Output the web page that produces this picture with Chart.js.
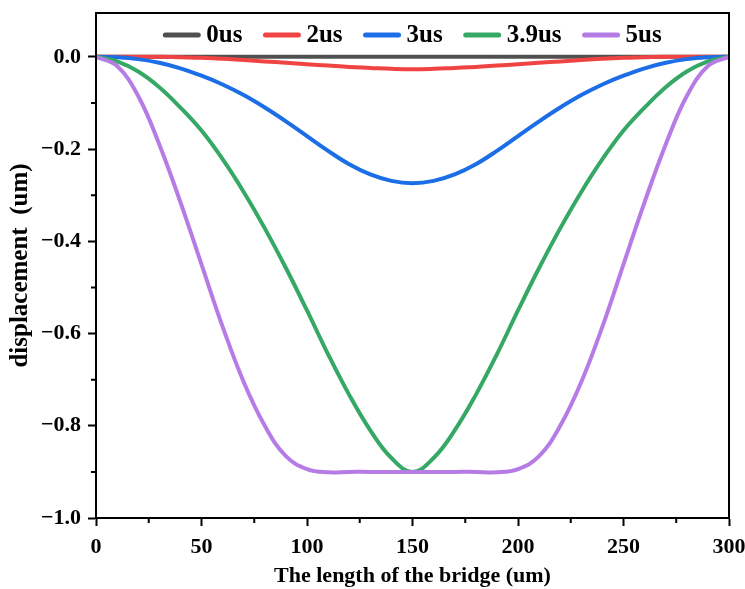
<!DOCTYPE html>
<html>
<head>
<meta charset="utf-8">
<script src="https://cdn.jsdelivr.net/npm/chart.js@4.4.1/dist/chart.umd.min.js"></script>
<style>
  html, body { margin: 0; padding: 0; background: #fff; }
  #wrap { width: 745px; height: 589px; }
</style>
</head>
<body>
<div id="wrap"><canvas id="chart"></canvas></div>
<script>
// bridge position (um)
const xs = [0, 10, 20, 30, 40, 50, 60, 70, 80, 90, 100, 110, 120, 130, 140, 150,
  160, 170, 180, 190, 200, 210, 220, 230, 240, 250, 260, 270, 280, 290, 300];

const labels = ['0us', '2us', '3us', '3.9us', '5us'];
const colors = ['#505050', '#f04444', '#1c6ee6', '#36a865', '#b67ce6'];

const d0 = [0, 0, 0, 0, 0, 0, 0, 0, 0, 0, 0, 0, 0, 0, 0, 0,
  0, 0, 0, 0, 0, 0, 0, 0, 0, 0, 0, 0, 0, 0, 0];
const d2 = [0, 0, 0, 0, -0.001, -0.002, -0.004, -0.007, -0.010, -0.013, -0.016, -0.019, -0.022, -0.024, -0.026, -0.027,
  -0.026, -0.024, -0.022, -0.019, -0.016, -0.013, -0.010, -0.007, -0.004, -0.002, -0.001, 0, 0, 0, 0];
const d3 = [0, -0.001, -0.005, -0.013, -0.025, -0.041, -0.06, -0.083, -0.11, -0.14, -0.172, -0.204, -0.233, -0.255, -0.269, -0.274,
  -0.269, -0.255, -0.233, -0.204, -0.172, -0.14, -0.11, -0.083, -0.06, -0.041, -0.025, -0.013, -0.005, -0.001, 0];
const d39 = [0, -0.01, -0.032, -0.066, -0.11, -0.16, -0.222, -0.293, -0.372, -0.458, -0.55, -0.645, -0.733, -0.81, -0.87, -0.9,
  -0.87, -0.81, -0.733, -0.645, -0.55, -0.458, -0.372, -0.293, -0.222, -0.16, -0.11, -0.066, -0.032, -0.01, 0];
const d5 = [0, -0.02, -0.085, -0.19, -0.315, -0.45, -0.585, -0.705, -0.8, -0.866, -0.894, -0.901, -0.9, -0.9, -0.9, -0.9,
  -0.9, -0.9, -0.9, -0.901, -0.894, -0.866, -0.8, -0.705, -0.585, -0.45, -0.315, -0.19, -0.085, -0.02, 0];

const xTicks = [0, 50, 100, 150, 200, 250, 300];
const xMinor = [25, 75, 125, 175, 225, 275];
const yTicks = [-1.0, -0.8, -0.6, -0.4, -0.2, 0.0];
const yMinor = [-0.9, -0.7, -0.5, -0.3, -0.1];

const series = [d0, d2, d3, d39, d5];
const fontFam = "'Liberation Serif', 'Times New Roman', serif";

// box around plot, minor ticks and the in-plot legend
const framePlugin = {
  id: 'frame',
  afterDraw(chart) {
    const { ctx, chartArea: a, scales } = chart;
    ctx.save();
    ctx.strokeStyle = '#000';
    ctx.lineWidth = 2;
    ctx.strokeRect(a.left, a.top, a.right - a.left, a.bottom - a.top);
    ctx.beginPath();
    xMinor.forEach(v => {
      const px = scales.x.getPixelForValue(v);
      ctx.moveTo(px, a.bottom);
      ctx.lineTo(px, a.bottom + 5);
    });
    yMinor.forEach(v => {
      const py = scales.y.getPixelForValue(v);
      ctx.moveTo(a.left, py);
      ctx.lineTo(a.left - 5, py);
    });
    ctx.stroke();

    // legend
    const lineW = 37, gap = 6, spacing = 21;
    ctx.font = 'bold 25px ' + fontFam;
    const sets = chart.data.datasets;
    const widths = sets.map(ds => lineW + gap + ctx.measureText(ds.label).width);
    const total = widths.reduce((s, w) => s + w, 0) + spacing * (sets.length - 1);
    let x = (a.left + a.right) / 2 - total / 2;
    const y = a.top + 22;
    ctx.textBaseline = 'middle';
    ctx.lineCap = 'round';
    sets.forEach((ds, i) => {
      ctx.strokeStyle = ds.borderColor;
      ctx.lineWidth = 5;
      ctx.beginPath();
      ctx.moveTo(x + 2, y);
      ctx.lineTo(x + lineW - 2, y);
      ctx.stroke();
      ctx.fillStyle = '#000';
      ctx.fillText(ds.label, x + lineW + gap, y + 1);
      x += widths[i] + spacing;
    });
    ctx.restore();
  }
};

new Chart(document.getElementById('chart'), {
  type: 'line',
  data: {
    datasets: series.map((arr, i) => ({
      label: labels[i],
      data: xs.map((x, j) => ({ x: x, y: arr[j] })),
      borderColor: colors[i],
      backgroundColor: colors[i],
      borderWidth: 4,
      pointRadius: 0,
      tension: 0.4,
      order: series.length - i
    }))
  },
  options: {
    responsive: true,
    maintainAspectRatio: false,
    animation: false,
    layout: { padding: { top: 13, right: 16, left: 0, bottom: 0 } },
    plugins: {
      tooltip: { enabled: false },
      legend: { display: false }
    },
    scales: {
      x: {
        type: 'linear',
        min: 0,
        max: 300,
        afterFit: s => {
          s.height = 71;
          s.paddingLeft = 0;
          s.paddingRight = 0;
        },
        afterBuildTicks: s => { s.ticks = xTicks.map(v => ({ value: v })); },
        border: { color: '#000', width: 2 },
        grid: { drawOnChartArea: false, tickLength: 8, tickColor: '#000', tickWidth: 2 },
        ticks: {
          color: '#000',
          padding: 8,
          maxRotation: 0,
          font: { family: fontFam, size: 22, weight: 'bold' },
          callback: v => String(v)
        },
        title: {
          display: true,
          text: 'The length of the bridge (um)',
          color: '#000',
          padding: { top: 0, bottom: -1 },
          font: { family: fontFam, size: 22, weight: 'bold' }
        }
      },
      y: {
        type: 'linear',
        min: -1,
        max: 0.095,
        afterFit: s => {
          s.width = 96;
          s.paddingTop = 0;
          s.paddingBottom = 0;
        },
        afterBuildTicks: s => { s.ticks = yTicks.map(v => ({ value: v })); },
        border: { color: '#000', width: 2 },
        grid: { drawOnChartArea: false, tickLength: 8, tickColor: '#000', tickWidth: 2 },
        ticks: {
          color: '#000',
          padding: 7,
          font: { family: fontFam, size: 22, weight: 'bold' },
          callback: v => v.toFixed(1).replace('-', '\u2212')
        },
        title: {
          display: true,
          text: 'displacement  (um)',
          color: '#000',
          padding: { top: 6, bottom: 0 },
          font: { family: fontFam, size: 25, weight: 'bold' }
        }
      }
    }
  },
  plugins: [framePlugin]
});
</script>
</body>
</html>
